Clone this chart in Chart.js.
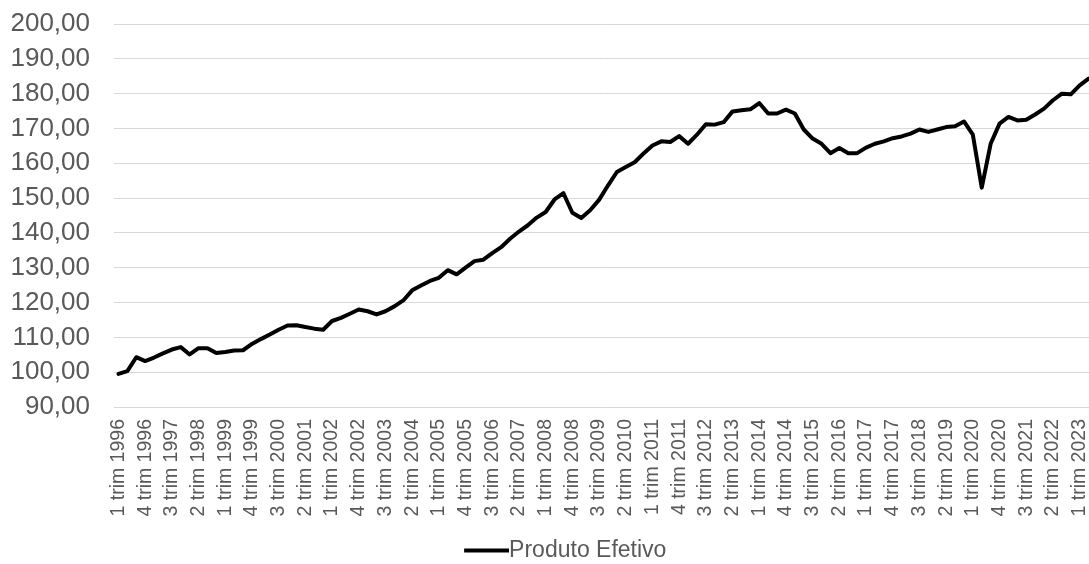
<!DOCTYPE html>
<html>
<head>
<meta charset="utf-8">
<script src="https://cdn.jsdelivr.net/npm/chart.js@4"></script>
<style>
  html, body { margin: 0; padding: 0; background: #ffffff; overflow: hidden; }
  #wrap { width: 1094px; height: 564px; position: relative; }
</style>
</head>
<body>
<div id="wrap"><canvas id="chart"></canvas></div>
<script>
// Quarterly series, 1 trim 1996 .. 2 trim 2023
const years = [1996, 1997, 1998, 1999, 2000, 2001, 2002, 2003, 2004, 2005, 2006, 2007, 2008, 2009,
               2010, 2011, 2012, 2013, 2014, 2015, 2016, 2017, 2018, 2019, 2020, 2021, 2022, 2023];
const quarterNames = ['1', '2', '3', '4'];
const lastYearQuarters = 2;

const produtoEfetivo = [
  99.5, 100.3, 104.3, 103.2, 104.2, 105.4, 106.5, 107.2, 105.1, 106.9,
  106.9, 105.5, 105.8, 106.2, 106.3, 108.1, 109.5, 110.8, 112.2, 113.4,
  113.5, 113.0, 112.5, 112.2, 114.7, 115.6, 116.8, 118.0, 117.5, 116.6,
  117.5, 118.9, 120.6, 123.5, 124.9, 126.2, 127.1, 129.3, 128.1, 130.0,
  131.9, 132.3, 134.2, 135.9, 138.3, 140.4, 142.2, 144.4, 146.0, 149.6,
  151.4, 145.8, 144.3, 146.5, 149.5, 153.6, 157.5, 158.9, 160.3, 162.8,
  165.1, 166.3, 166.1, 167.8, 165.6, 168.2, 171.2, 171.1, 171.8, 174.9,
  175.2, 175.5, 177.3, 174.3, 174.3, 175.4, 174.3, 169.7, 167.1, 165.6,
  162.9, 164.4, 162.9, 162.9, 164.5, 165.6, 166.3, 167.2, 167.7, 168.5,
  169.7, 169.0, 169.7, 170.4, 170.6, 172.0, 168.2, 153.0, 165.6, 171.4,
  173.3, 172.3, 172.5, 174.0, 175.7, 178.1, 180.0, 179.8, 182.4, 184.3
];

const yMin = 90, yMax = 200, yStep = 10;
const labelEvery = 3;

const categories = [];
years.forEach((y, yi) => {
  const n = yi === years.length - 1 ? lastYearQuarters : quarterNames.length;
  for (let q = 0; q < n; q++) categories.push(quarterNames[q] + ' trim ' + y);
});

const fontFamily = "'Liberation Sans', Arial, sans-serif";
const textColor = '#595959';
const legendFontSize = 23;
const legendLineWidth = 45;

// Legend swatch: a short thick line that runs right up to the label text
const swatchGap = legendFontSize / 2;
const swatch = document.createElement('canvas');
swatch.width = legendLineWidth + 2 * swatchGap;
swatch.height = 6;
(function () {
  const g = swatch.getContext('2d');
  g.strokeStyle = '#000000';
  g.lineWidth = 4;
  g.beginPath();
  g.moveTo(2 * swatchGap, 3);
  g.lineTo(swatch.width, 3);
  g.stroke();
})();

// Nudge the legend block within the bottom band
const legendShift = {
  id: 'legendShift',
  afterLayout(chart) {
    const lg = chart.legend;
    if (!lg) return;
    const dx = 13, dy = 12;
    lg.left += dx; lg.right += dx;
    lg.top += dy; lg.bottom += dy;
  }
};

new Chart(document.getElementById('chart'), {
  type: 'line',
  data: {
    labels: categories,
    datasets: [{
      label: 'Produto Efetivo',
      data: produtoEfetivo,
      borderColor: '#000000',
      backgroundColor: '#000000',
      borderWidth: 4,
      pointRadius: 0,
      pointHoverRadius: 0,
      tension: 0,
      borderJoinStyle: 'round',
      borderCapStyle: 'round',
      fill: false
    }]
  },
  plugins: [legendShift],
  options: {
    responsive: true,
    maintainAspectRatio: false,
    animation: false,
    events: [],
    layout: { padding: { top: 24, right: 1, left: 0, bottom: 4 } },
    scales: {
      x: {
        type: 'category',
        offset: true,
        grid: { display: false, drawTicks: false },
        border: { display: false },
        ticks: {
          autoSkip: false,
          maxRotation: 90,
          minRotation: 90,
          padding: 12,
          color: textColor,
          font: { family: fontFamily, size: 19.5 },
          callback: function (value, index) {
            return index % labelEvery === 0 ? this.getLabelForValue(value) : '';
          }
        },
        afterFit: function (scale) {
          scale.height = 112;
          scale.paddingLeft = 0;
          scale.paddingRight = 0;
        }
      },
      y: {
        min: yMin,
        max: yMax,
        grid: { color: '#d9d9d9', lineWidth: 1, drawTicks: false },
        border: { display: false },
        ticks: {
          autoSkip: false,
          stepSize: yStep,
          padding: 24,
          color: textColor,
          font: { family: fontFamily, size: 26 },
          callback: (v) => v.toFixed(2).replace('.', ',')
        },
        afterFit: function (scale) {
          scale.width = 114;
          scale.paddingTop = 0;
          scale.paddingBottom = 0;
        }
      }
    },
    plugins: {
      tooltip: { enabled: false },
      legend: {
        position: 'bottom',
        labels: {
          usePointStyle: true,
          pointStyle: swatch,
          pointStyleWidth: legendLineWidth,
          boxHeight: legendFontSize,
          color: textColor,
          font: { family: fontFamily, size: legendFontSize },
          padding: 8
        }
      }
    }
  }
});
</script>
</body>
</html>
